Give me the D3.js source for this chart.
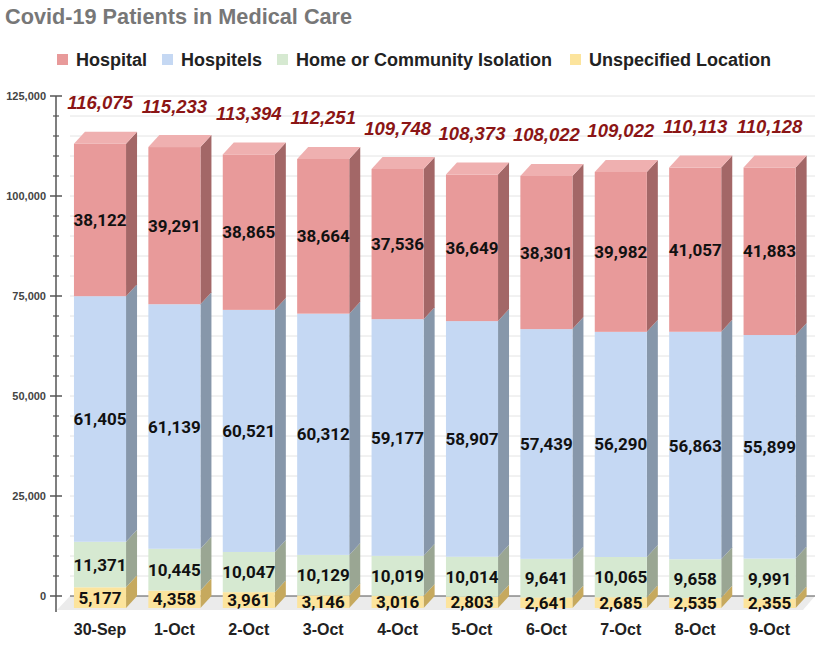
<!DOCTYPE html>
<html>
<head>
<meta charset="utf-8">
<script src="https://cdn.jsdelivr.net/npm/d3@7/dist/d3.min.js"></script>
<style>
  html, body { margin: 0; padding: 0; background: #fff; }
  svg { display: block; }
</style>
</head>
<body>
<svg id="chart" width="820" height="646"></svg>
<script>
const categories = ["30-Sep","1-Oct","2-Oct","3-Oct","4-Oct","5-Oct","6-Oct","7-Oct","8-Oct","9-Oct"];
const seriesNames = ["Unspecified Location","Home or Community Isolation","Hospitels","Hospital"];
const unspecified = [5177,4358,3961,3146,3016,2803,2641,2685,2535,2355];
const homeIsolation = [11371,10445,10047,10129,10019,10014,9641,10065,9658,9991];
const hospitels = [61405,61139,60521,60312,59177,58907,57439,56290,56863,55899];
const hospital = [38122,39291,38865,38664,37536,36649,38301,39982,41057,41883];
const totals = [116075,115233,113394,112251,109748,108373,108022,109022,110113,110128];
const yTicks = [0,25000,50000,75000,100000,125000];
const legendOrder = ["Hospital","Hospitels","Home or Community Isolation","Unspecified Location"];

const colors = {
  "Hospital": {front:"#e89a9a", side:"#a36767", top:"#efb0b0"},
  "Hospitels": {front:"#c5d8f3", side:"#8797aa", top:"#d6e3f6"},
  "Home or Community Isolation": {front:"#d6e9d1", side:"#9aa693", top:"#e2f0de"},
  "Unspecified Location": {front:"#fce49d", side:"#c6a95e", top:"#fdebb6"}
};

const svg = d3.select("#chart");
const dx = 11, dy = 12;

const yBack = d3.scaleLinear().domain([0,125000]).range([596,96]);
const yFront = v => yBack(v) + dy;
const x = d3.scaleBand().domain(categories).range([62.8,806.8]).paddingInner(0.3).paddingOuter(0.15);

// Title
svg.append("text").attr("x",5).attr("y",16).attr("dominant-baseline","central")
  .attr("font-family","Liberation Sans, Arial, sans-serif").attr("font-weight","bold")
  .attr("font-size","21.7px").attr("fill","#777").text("Covid-19 Patients in Medical Care");

// Legend
const legendX = [57,162,277,570];
legendOrder.forEach((name,i)=>{
  const g = svg.append("g");
  g.append("rect").attr("x",legendX[i]).attr("y",54).attr("width",11).attr("height",11)
    .attr("fill",colors[name].front);
  g.append("text").attr("x",legendX[i]+19).attr("y",60).attr("dominant-baseline","central")
    .attr("font-family","Liberation Sans, Arial, sans-serif").attr("font-weight","bold")
    .attr("font-size","18px").attr("fill","#222").text(name);
});

// Gridlines (back plane)
const grid = d3.range(5000,125001,5000);
svg.append("g").selectAll("line").data(grid).join("line")
  .attr("x1",70).attr("x2",815)
  .attr("y1",d=>yBack(d)).attr("y2",d=>yBack(d))
  .attr("stroke","#e4e4e4").attr("stroke-width",1);

// Floor
svg.append("polygon")
  .attr("points",[[57,610],[70,596],[815,596],[803,610]].map(p=>p.join(",")).join(" "))
  .attr("fill","#ebebeb");
svg.append("line").attr("x1",70).attr("x2",815).attr("y1",yBack(0)).attr("y2",yBack(0))
  .attr("stroke","#555").attr("stroke-width",1.2);

// Axis
const axisG = svg.append("g").attr("transform","translate(56,0)");
axisG.append("line").attr("x1",0).attr("x2",0).attr("y1",yBack(125000)).attr("y2",612)
  .attr("stroke","#555").attr("stroke-width",1.5);
const minor = d3.range(0,125001,5000).filter(v=>v%25000!==0);
axisG.selectAll(".minor").data(minor).join("line")
  .attr("x1",-3).attr("x2",3).attr("y1",d=>yBack(d)).attr("y2",d=>yBack(d))
  .attr("stroke","#555").attr("stroke-width",1.2);
axisG.selectAll(".major").data(yTicks).join("line")
  .attr("x1",-6).attr("x2",6).attr("y1",d=>yBack(d)).attr("y2",d=>yBack(d))
  .attr("stroke","#555").attr("stroke-width",1.5);
axisG.selectAll(".lab").data(yTicks).join("text")
  .attr("x",-10).attr("y",d=>yBack(d)).attr("text-anchor","end").attr("dominant-baseline","central")
  .attr("font-family","Liberation Sans, Arial, sans-serif").attr("font-weight","bold")
  .attr("font-size","11px").attr("fill","#444").text(d=>d3.format(",")(d));

// Stacked data
const table = categories.map((c,i)=>({
  cat:c,
  "Unspecified Location":unspecified[i],
  "Home or Community Isolation":homeIsolation[i],
  "Hospitels":hospitels[i],
  "Hospital":hospital[i]
}));
const stack = d3.stack().keys(seriesNames)(table);

const bars = svg.append("g");
categories.forEach((c,i)=>{
  const x0 = x(c), x1 = x0 + x.bandwidth();
  stack.forEach((layer,li)=>{
    const name = layer.key;
    const [v0,v1] = layer[i];
    const col = colors[name];
    const yt = yFront(v1), yb = yFront(v0);
    bars.append("polygon")
      .attr("points",[[x1,yb],[x1,yt],[x1+dx,yt-dy],[x1+dx,yb-dy]].map(p=>p.join(",")).join(" "))
      .attr("fill",col.side);
    bars.append("rect").attr("x",x0).attr("y",yt).attr("width",x.bandwidth()).attr("height",yb-yt)
      .attr("fill",col.front);
    if (li === stack.length-1) {
      bars.append("polygon")
        .attr("points",[[x0,yt],[x0+dx,yt-dy],[x1+dx,yt-dy],[x1,yt]].map(p=>p.join(",")).join(" "))
        .attr("fill",col.top);
    }
  });
});

// Segment labels
const labelsG = svg.append("g");
categories.forEach((c,i)=>{
  const cx = x(c) + x.bandwidth()/2;
  stack.forEach(layer=>{
    const [v0,v1] = layer[i];
    labelsG.append("text").attr("x",cx).attr("y",(yFront(v0)+yFront(v1))/2)
      .attr("text-anchor","middle").attr("dominant-baseline","central")
      .attr("font-family","Roboto, sans-serif").attr("font-weight","bold")
      .attr("font-size","17px").attr("fill","#111").text(d3.format(",")(v1-v0));
  });
});

// Totals
svg.append("g").selectAll("text").data(categories).join("text")
  .attr("x",c=>x(c)+x.bandwidth()/2).attr("y",(c,i)=>yBack(totals[i])-29)
  .attr("text-anchor","middle").attr("dominant-baseline","central")
  .attr("font-family","Liberation Sans, Arial, sans-serif").attr("font-weight","bold").attr("font-style","italic")
  .attr("font-size","18.5px").attr("fill","#8b1515").text((c,i)=>d3.format(",")(totals[i]));

// Category labels
svg.append("g").selectAll("text").data(categories).join("text")
  .attr("x",c=>x(c)+x.bandwidth()/2).attr("y",629)
  .attr("text-anchor","middle").attr("dominant-baseline","central")
  .attr("font-family","Liberation Sans, Arial, sans-serif").attr("font-weight","bold")
  .attr("font-size","16px").attr("fill","#222").text(c=>c);
</script>
</body>
</html>
